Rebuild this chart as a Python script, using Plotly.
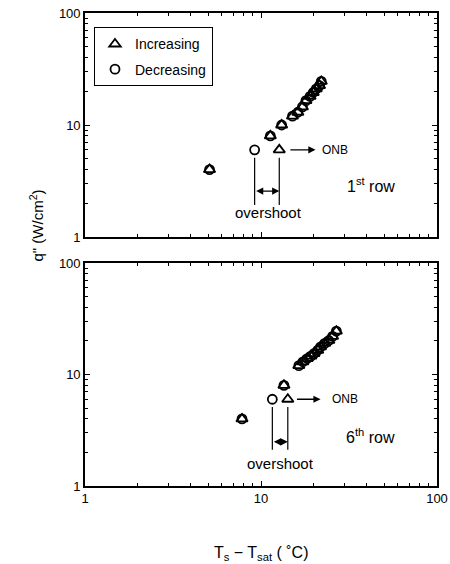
import math
import plotly.graph_objects as go

# ---- data ----
# Row 1 (top panel)
row1_inc_x = [5.1, 11.3, 12.7, 13.1, 15.1, 16.2, 17.2, 18.0, 19.0, 19.8, 20.6, 21.5, 22.0]
row1_inc_y = [4.0, 8.0, 6.0, 10.0, 12.0, 13.0, 14.5, 16.5, 18.0, 19.5, 21.0, 22.5, 24.5]
row1_dec_x = [5.1, 9.2, 11.3, 13.1, 15.1, 16.2, 17.2, 18.0, 19.0, 19.8, 20.6, 21.5, 22.0]
row1_dec_y = [4.0, 6.0, 8.0, 10.0, 12.0, 13.0, 14.5, 16.5, 18.0, 19.5, 21.0, 22.5, 24.5]
# Row 6 (bottom panel)
row6_inc_x = [7.8, 14.2, 13.5, 16.4, 17.3, 18.3, 19.2, 20.0, 21.0, 21.8, 23.0, 24.3, 25.5, 26.8]
row6_inc_y = [4.0, 6.0, 8.0, 12.0, 13.0, 13.9, 14.6, 15.4, 16.5, 17.7, 19.0, 20.2, 22.0, 24.5]
row6_dec_x = [7.8, 11.6, 13.5, 16.4, 17.3, 18.3, 19.2, 20.0, 21.0, 21.8, 23.0, 24.3, 25.5, 26.8]
row6_dec_y = [4.0, 6.0, 8.0, 12.0, 13.0, 13.9, 14.6, 15.4, 16.5, 17.7, 19.0, 20.2, 22.0, 24.5]

# overshoot / ONB positions
row1_onb = (12.7, 6.0)
row1_dec_onset = (9.2, 6.0)
row6_onb = (14.2, 6.0)
row6_dec_onset = (11.6, 6.0)

FONT = "Liberation Sans, Arial, sans-serif"
lg = math.log10

fig = go.Figure()

mk_tri = dict(symbol="triangle-up-open", size=10, color="black", line=dict(width=1.8, color="black"))
mk_cir = dict(symbol="circle-open", size=9, color="black", line=dict(width=1.8, color="black"))

fig.add_trace(go.Scatter(x=row1_inc_x, y=row1_inc_y, mode="markers", marker=mk_tri,
                         name="Increasing", legendgroup="a", xaxis="x", yaxis="y"))
fig.add_trace(go.Scatter(x=row1_dec_x, y=row1_dec_y, mode="markers", marker=mk_cir,
                         name="Decreasing", legendgroup="b", xaxis="x", yaxis="y"))
fig.add_trace(go.Scatter(x=row6_inc_x, y=row6_inc_y, mode="markers", marker=mk_tri,
                         showlegend=False, xaxis="x2", yaxis="y2"))
fig.add_trace(go.Scatter(x=row6_dec_x, y=row6_dec_y, mode="markers", marker=mk_cir,
                         showlegend=False, xaxis="x2", yaxis="y2"))

# vertical guide lines for overshoot
def vlines(xa, ya, xs, ytop, ybot):
    for xv in xs:
        fig.add_trace(go.Scatter(x=[xv, xv], y=[ytop, ybot], mode="lines",
                                 line=dict(color="black", width=1.2), showlegend=False,
                                 hoverinfo="skip", xaxis=xa, yaxis=ya))

vlines("x", "y", [row1_dec_onset[0], row1_onb[0]], 5.1, 1.93)
vlines("x2", "y2", [row6_dec_onset[0], row6_onb[0]], 5.1, 2.11)

ann = []
def arrow(xref, yref, x0, x1, yv, side="end"):
    ann.append(dict(x=lg(x1), y=lg(yv), ax=lg(x0), ay=lg(yv), xref=xref, yref=yref,
                    axref=xref, ayref=yref, showarrow=True, arrowhead=2, arrowsize=1.1,
                    arrowwidth=1.3, arrowcolor="black", arrowside=side, text=""))

def txt(xref, yref, x, y, s, size=12):
    ann.append(dict(x=lg(x), y=lg(y), xref=xref, yref=yref, text=s, showarrow=False,
                    font=dict(family=FONT, size=size, color="black")))

# top panel
arrow("x", "y", 14.4, 20.4, 6.0)
txt("x", "y", 26.3, 6.0, "ONB", 12)
arrow("x", "y", row1_dec_onset[0], row1_onb[0], 2.57, "end+start")
txt("x", "y", 11.0, 1.64, "overshoot", 15)
txt("x", "y", 42, 2.9, "1<sup>st</sup> row", 16)
# bottom panel
arrow("x2", "y2", 15.7, 21.8, 6.0)
txt("x2", "y2", 30.0, 6.0, "ONB", 12)
arrow("x2", "y2", row6_dec_onset[0], row6_onb[0], 2.49, "end+start")
txt("x2", "y2", 12.9, 1.59, "overshoot", 15)
txt("x2", "y2", 42, 2.82, "6<sup>th</sup> row", 16)

# axis titles
ann.append(dict(x=-0.17, y=0.55, xref="paper", yref="paper", textangle=-90, showarrow=False,
                text="q\" (W/cm<sup>2</sup>)", font=dict(family=FONT, size=15, color="black")))
ann.append(dict(x=0.5, y=-0.168, xref="paper", yref="paper", showarrow=False,
                text="T<sub>s</sub> \u2212 T<sub>sat</sub> ( \u02daC)", font=dict(family=FONT, size=16, color="black")))

axcommon = dict(type="log", range=[0, 2], showgrid=False, zeroline=False, automargin=False,
                showline=True, linecolor="black", linewidth=1.6, mirror="ticks",
                ticks="inside", ticklen=5, tickwidth=1.2, tickcolor="black", dtick=1,
                minor=dict(ticks="inside", ticklen=3, tickwidth=1, tickcolor="black", showgrid=False),
                tickfont=dict(family=FONT, size=13, color="black"))

H = 473.0
fig.update_layout(
    template="none",
    width=450, height=564,
    margin=dict(l=85, r=13, t=13, b=78),
    paper_bgcolor="white", plot_bgcolor="white",
    xaxis=dict(axcommon, domain=[0, 1], anchor="y", showticklabels=False),
    yaxis=dict(axcommon, domain=[1 - 224 / H, 1], anchor="x"),
    xaxis2=dict(axcommon, domain=[0, 1], anchor="y2"),
    yaxis2=dict(axcommon, domain=[0, 1 - 250 / H], anchor="x2"),
    showlegend=True,
    legend=dict(x=0.025, y=0.97, xanchor="left", yanchor="top", bordercolor="black", borderwidth=1.2,
                bgcolor="white", font=dict(family=FONT, size=14, color="black"),
                tracegroupgap=4, itemwidth=30),
    annotations=ann,
)

fig.write_html("out.html")
